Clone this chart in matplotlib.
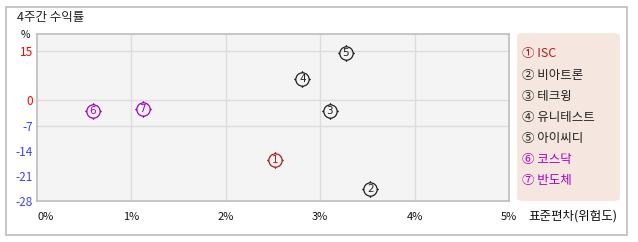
import numpy as np
import matplotlib.pyplot as plt
from matplotlib.path import Path
from matplotlib.patches import Rectangle, FancyBboxPatch

plt.rcParams['font.family'] = ['Noto Sans CJK KR', 'DejaVu Sans']

names = ['ISC', '비아트론', '테크윙', '유니테스트', '아이씨디', '코스닥', '반도체']
circled = ['①', '②', '③', '④', '⑤', '⑥', '⑦']
risk = [2.52, 3.53, 3.10, 2.81, 3.27, 0.59, 1.12]       # 표준편차 (%)
ret = [-16.7, -24.7, -2.8, 6.6, 14.4, -3.0, -2.5]        # 4주간 수익률 (%)
colors = ['#b01c1c', '#222222', '#222222', '#222222', '#222222', '#a000c0', '#a000c0']

yticks = [15, 0, -7, -14, -21, -28]
ytick_colors = ['#ff0000', '#ff0000', '#4040ff', '#4040ff', '#4040ff', '#4040ff']
xticks = [0, 1, 2, 3, 4, 5]

W, H = 638, 242
fig = plt.figure(figsize=(W / 100, H / 100), dpi=100)

# outer frame
fig.patches.append(Rectangle((6 / W, 1 - 235 / H), 621 / W, 228 / H, transform=fig.transFigure,
                             fill=False, edgecolor='#bdbdbd', linewidth=1.2))

ax = fig.add_axes([37 / W, 1 - 201 / H, 472 / W, 167 / H])
ax.set_facecolor('#f4f4f4')


# positive side is a bit compressed compared with the negative side
def fwd(y):
    y = np.asarray(y, dtype=float)
    return np.where(y > 0, y * 0.926, y)


def inv(y):
    y = np.asarray(y, dtype=float)
    return np.where(y > 0, y / 0.926, y)


ax.set_yscale('function', functions=(fwd, inv))
ax.set_xlim(0, 5)
ax.set_ylim(-28, 20)

for s in ax.spines.values():
    s.set_color('#bdbdbd')
    s.set_linewidth(1.2)

for gx in [1, 2, 3, 4]:
    ax.axvline(gx, color='#dcdcdc', linewidth=1, zorder=0)
for gy in [15, 0, -7]:
    ax.axhline(gy, color='#dcdcdc', linewidth=1, zorder=0)

ax.set_yticks(yticks)
ax.set_yticklabels([str(v) for v in yticks], fontsize=8.5)
for lab, c in zip(ax.get_yticklabels(), ytick_colors):
    lab.set_color(c)
ax.set_xticks(xticks)
ax.set_xticklabels(['%d%%' % v for v in xticks], fontsize=8, color='#111111')
ax.get_xticklabels()[0].set_ha('left')
ax.tick_params(length=0, pad=3)
ax.tick_params(axis='x', pad=8)

# marker: circle with four small ticks
circ = Path.unit_circle()
ticks = Path([(0, 1), (0, 1.25), (0, -1), (0, -1.25), (1, 0), (1.25, 0), (-1, 0), (-1.25, 0)],
             [Path.MOVETO, Path.LINETO] * 4)
mk = Path.make_compound_path(circ, ticks)

for i in range(len(names)):
    ax.plot(risk[i], ret[i], marker=mk, markersize=12, markerfacecolor='none',
            markeredgecolor=colors[i], markeredgewidth=0.9, linestyle='none', zorder=3)
    ax.text(risk[i], ret[i], str(i + 1), color=colors[i], fontsize=7.5,
            ha='center', va='center', zorder=4, family='DejaVu Sans')

fig.text(17 / W, 1 - 18 / H, '4주간 수익률', fontsize=9, color='#222222', va='center')
fig.text(25 / W, 1 - 35 / H, '%', fontsize=7.5, color='#111111', va='center', ha='center')
fig.text(528 / W, 1 - 216 / H, '표준편차(위험도)', fontsize=9, color='#111111', va='center')

# legend panel
fig.patches.append(FancyBboxPatch((517 / W, 1 - 201 / H), 103 / W, 168 / H,
                                  boxstyle='round,pad=0,rounding_size=0.012',
                                  transform=fig.transFigure, facecolor='#f5e7df',
                                  edgecolor='none'))
for i in range(len(names)):
    fig.text(522 / W, 1 - (54 + i * 21.1) / H, circled[i] + ' ' + names[i], fontsize=9,
             color=colors[i], va='center')

fig.savefig('out.png', dpi=100)
